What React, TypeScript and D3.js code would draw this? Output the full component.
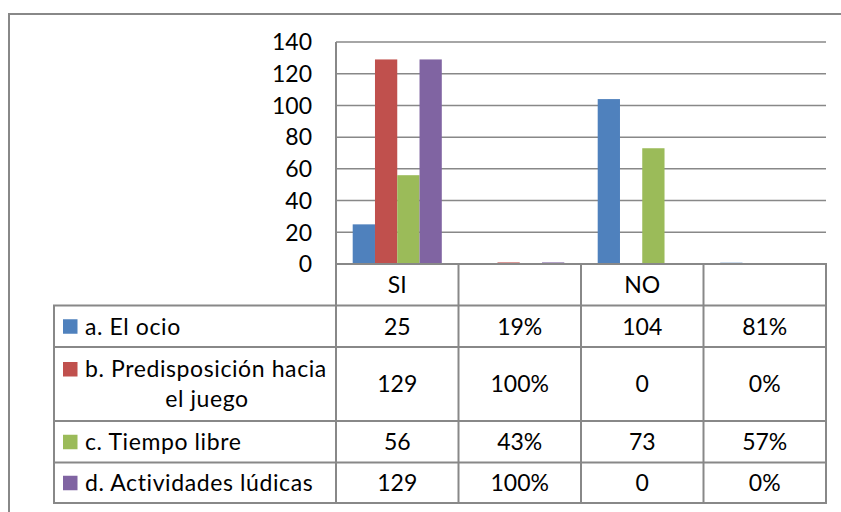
import React from "react";
import * as d3 from "d3";

const categories = ["SI", "", "NO", ""];
const columnFormats = ["n", "%", "n", "%"];
const seriesNames = [
  "a. El ocio",
  "b. Predisposición hacia el juego",
  "c. Tiempo libre",
  "d. Actividades lúdicas",
];
const seriesLabelLines = [
  ["a. El ocio"],
  ["b. Predisposición hacia", "el juego"],
  ["c. Tiempo libre"],
  ["d. Actividades lúdicas"],
];
const ocio = [25, 0.19, 104, 0.81];
const predisposicion = [129, 1, 0, 0];
const tiempoLibre = [56, 0.43, 73, 0.57];
const actividades = [129, 1, 0, 0];
const seriesValues = [ocio, predisposicion, tiempoLibre, actividades];
const colors = ["#4F81BD", "#C0504D", "#9BBB59", "#8064A2"];
const yTicks = [0, 20, 40, 60, 80, 100, 120, 140];

const width = 841,
  height = 512;
const plotLeft = 336,
  plotRight = 826,
  plotTop = 42,
  plotBottom = 264;
const tableLeft = 54;
const rowLines = [264, 305.5, 347, 421, 462.5, 503];
const font = "Lato, 'Open Sans', sans-serif";
const fs = 23;
const grid = "#888888";

const App = () => {
  const x0 = d3.scaleBand().domain(d3.range(categories.length).map(String)).range([plotLeft, plotRight]);
  const x1 = d3
    .scaleBand()
    .domain(seriesNames)
    .range([0, x0.bandwidth()])
    .paddingOuter(0.75);
  const y = d3.scaleLinear().domain([0, 140]).range([plotBottom, plotTop]);
  const fmt = (v: number, f: string) => (f === "%" ? d3.format(".0%")(v) : String(v));

  return (
    <svg width={width} height={height} style={{ position: "absolute", left: 0, top: 0 }}>
      <rect x={0} y={0} width={width} height={height} fill="#fff" />
      {/* outer chart border, runs off the right/bottom */}
      <path d={`M9,${height + 5}V14H${width + 5}`} fill="none" stroke={grid} strokeWidth={2} />

      {/* gridlines */}
      {yTicks.map((t) => (
        <line key={t} x1={plotLeft} x2={plotRight} y1={y(t)} y2={y(t)} stroke={grid} strokeWidth={1.5} />
      ))}
      {yTicks.map((t) => (
        <text
          key={"l" + t}
          x={312}
          y={y(t)}
          dy="0.36em"
          textAnchor="end"
          fontFamily={font}
          fontSize={fs}
          fill="#000"
        >
          {t}
        </text>
      ))}

      {/* bars */}
      {categories.map((c, ci) =>
        seriesValues.map((vals, si) => (
          <rect
            key={ci + "-" + si}
            x={(x0(String(ci)) as number) + (x1(seriesNames[si]) as number)}
            y={y(vals[ci])}
            width={x1.bandwidth()}
            height={plotBottom - y(vals[ci])}
            fill={colors[si]}
          />
        ))
      )}

      {/* data table */}
      <line x1={plotLeft} x2={plotLeft} y1={plotTop} y2={rowLines[rowLines.length - 1]} stroke={grid} strokeWidth={2} />
      {categories.map((c, ci) => (
        <line
          key={"v" + ci}
          x1={x0.step() * (ci + 1) + plotLeft}
          x2={x0.step() * (ci + 1) + plotLeft}
          y1={plotBottom}
          y2={rowLines[rowLines.length - 1]}
          stroke={grid}
          strokeWidth={2}
        />
      ))}
      <line x1={tableLeft} x2={tableLeft} y1={rowLines[1]} y2={rowLines[rowLines.length - 1]} stroke={grid} strokeWidth={2} />
      {rowLines.map((r, i) => (
        <line
          key={"h" + i}
          x1={i === 0 ? plotLeft : tableLeft - 1}
          x2={plotRight + 1}
          y1={r}
          y2={r}
          stroke={grid}
          strokeWidth={2}
        />
      ))}
      {categories.map((c, ci) => (
        <text
          key={"c" + ci}
          x={(x0(String(ci)) as number) + x0.bandwidth() / 2}
          y={(rowLines[0] + rowLines[1]) / 2}
          dy="0.36em"
          textAnchor="middle"
          fontFamily={font}
          fontSize={fs}
        >
          {c}
        </text>
      ))}
      {seriesNames.map((s, si) => {
        const top = rowLines[si + 1],
          bottom = rowLines[si + 2];
        const mid = (top + bottom) / 2;
        const lines = seriesLabelLines[si];
        const lh = 30;
        const firstY = mid - ((lines.length - 1) * lh) / 2;
        return (
          <g key={s}>
            <rect x={63} y={firstY - 7} width={14.5} height={14.5} fill={colors[si]} />
            {lines.map((ln, li) => (
              <text
                key={li}
                x={li === 0 ? 85 : 207}
                y={firstY + li * lh}
                dy="0.36em"
                textAnchor={li === 0 ? "start" : "middle"}
                fontFamily={font}
                fontSize={fs}
                letterSpacing={0.6}
              >
                {ln}
              </text>
            ))}
            {categories.map((c, ci) => (
              <text
                key={ci}
                x={(x0(String(ci)) as number) + x0.bandwidth() / 2}
                y={mid}
                dy="0.36em"
                textAnchor="middle"
                fontFamily={font}
                fontSize={fs}
              >
                {fmt(seriesValues[si][ci], columnFormats[ci])}
              </text>
            ))}
          </g>
        );
      })}
    </svg>
  );
};

export default App;
